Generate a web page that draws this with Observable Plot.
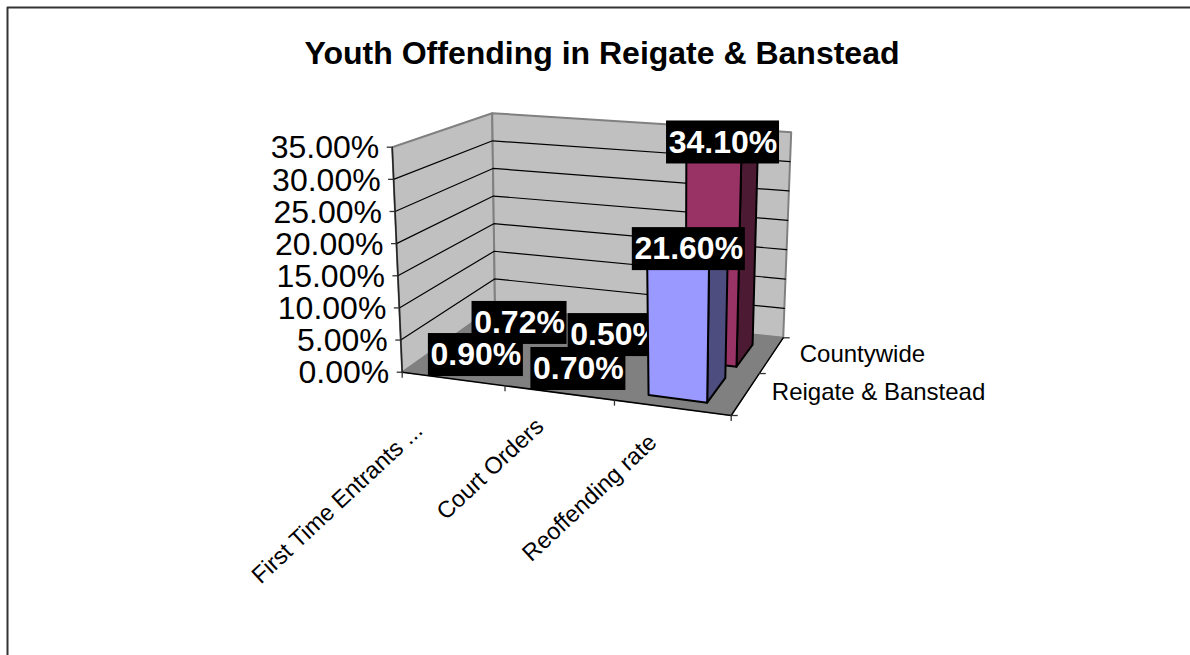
<!DOCTYPE html>
<html><head><meta charset="utf-8">
<script src="https://cdn.jsdelivr.net/npm/d3@7"></script>
<script src="https://cdn.jsdelivr.net/npm/@observablehq/plot@0.6"></script>
<style>html,body{margin:0;padding:0;background:#fff}svg{display:block}</style>
</head><body><div id="chart"></div>
<script>
const chartTitle = "Youth Offending in Reigate & Banstead";
const categories = ["First Time Entrants ...", "Court Orders", "Reoffending rate"];
const seriesNames = ["Reigate & Banstead", "Countywide"];
const reigateValues = [0.90, 0.70, 21.60];
const countywideValues = [0.72, 0.50, 34.10];
const valueTicks = [0, 5, 10, 15, 20, 25, 30, 35];
const valueMax = 35;

// layout of the 3D box
const floorQuad = [[401.7,371.7],[730.7,415],[782.7,337.3],[494.5,306]];
const topQuad = [[391.7,146.7],[737,176],[790.7,131.7],[491.7,112.7]];
function quadMap(q){
  const [[x0,y0],[x1,y1],[x2,y2],[x3,y3]] = q;
  const sx=x0-x1+x2-x3, sy=y0-y1+y2-y3, dx1=x1-x2, dx2=x3-x2, dy1=y1-y2, dy2=y3-y2;
  const det=dx1*dy2-dx2*dy1, g=(sx*dy2-dx2*sy)/det, h=(dx1*sy-sx*dy1)/det;
  const a=x1-x0+g*x1, b=x3-x0+h*x3, d=y1-y0+g*y1, e=y3-y0+h*y3;
  return (s,t)=>{const w=g*s+h*t+1; return [(a*s+b*t+x0)/w,(d*s+e*t+y0)/w];};
}
const floorMap = quadMap(floorQuad), topMap = quadMap(topQuad);
// c: category position (0..3), s: series position (0..2), v: value
function P(c,s,v){
  const f=floorMap(c/3,s/2), t=topMap(c/3,s/2), k=v/valueMax;
  return [f[0]+(t[0]-f[0])*k, f[1]+(t[1]-f[1])*k];
}
const poly = (pts,o)=>Plot.line(pts.concat([pts[0]]),{x:d=>d[0],y:d=>d[1],...o});
const seg = (a,b,o)=>Plot.line([a,b],{x:d=>d[0],y:d=>d[1],...o});

const FONT="Liberation Sans, Arial, sans-serif";
const wallFill="#c0c0c0", floorFill="#808080", edge="#808080";
const marks=[];
// frame
marks.push(Plot.line([[7,655],[7,7],[1190,7]],{x:d=>d[0],y:d=>d[1],stroke:"#333",strokeWidth:2}));
// walls and floor
marks.push(poly([P(0,0,0),P(0,2,0),P(0,2,valueMax),P(0,0,valueMax)],{fill:wallFill,stroke:edge,strokeWidth:2}));
marks.push(poly([P(0,2,0),P(3,2,0),P(3,2,valueMax),P(0,2,valueMax)],{fill:wallFill,stroke:edge,strokeWidth:2}));
marks.push(poly([P(0,0,0),P(3,0,0),P(3,2,0),P(0,2,0)],{fill:floorFill,stroke:floorFill,strokeWidth:1}));
// gridlines
for(const v of valueTicks.slice(1,-1)){
  marks.push(Plot.line([P(0,0,v),P(0,2,v),P(3,2,v)],{x:d=>d[0],y:d=>d[1],stroke:"#000",strokeWidth:1.2}));
}
// axis lines and ticks
marks.push(seg(P(0,0,0),P(0,0,valueMax),{stroke:"#222",strokeWidth:1.5}));
marks.push(seg(P(0,0,0),P(3,0,0),{stroke:"#000",strokeWidth:1.5}));
marks.push(seg(P(3,0,0),P(3,2,0),{stroke:"#000",strokeWidth:1.5}));
marks.push(Plot.ruleX([0,1,2,3].map(c=>P(c,0,0)),{x:d=>d[0],y1:d=>d[1],y2:d=>d[1]+6,stroke:"#333",strokeWidth:1.3}));
marks.push(Plot.ruleY(valueTicks.map(v=>P(0,0,v)),{y:d=>d[1],x1:d=>d[0]-5,x2:d=>d[0],stroke:"#333",strokeWidth:1.3}));
marks.push(Plot.ruleY([0,1,2].map(s=>P(3,s,0)),{y:d=>d[1],x1:d=>d[0],x2:d=>d[0]+7,stroke:"#333",strokeWidth:1.3}));
// axis labels
marks.push(Plot.text(valueTicks,{x:v=>P(0,0,v)[0]-13,y:v=>P(0,0,v)[1]+1,text:v=>v.toFixed(2)+"%",textAnchor:"end",fontSize:32,fontFamily:FONT,fill:"#000"}));
const catShift=[[-34,48],[-19,30],[-19,31]];
marks.push(Plot.text(categories,{x:(d,i)=>P(i+0.5,0,0)[0]+catShift[i][0],y:(d,i)=>P(i+0.5,0,0)[1]+catShift[i][1],text:d=>d,rotate:-43,textAnchor:"end",fontSize:23.5,fontFamily:FONT,fill:"#000"}));
marks.push(Plot.text(seriesNames,{x:(d,i)=>P(3,i+0.5,0)[0]+(i?28:26),y:(d,i)=>P(3,i+0.5,0)[1]-1,text:d=>d,textAnchor:"start",fontSize:24,fontFamily:FONT,fill:"#000"}));
// bars back to front with their labels
const barU=[[0.235,0.745],[0.30,0.77]], barV=[[0.2,0.8],[0.1,0.72]];
function bar(ci,si,v,cols){
  const u0=ci+barU[si][0],u1=ci+barU[si][1],v0=si+barV[si][0],v1=si+barV[si][1];
  marks.push(poly([P(u1,v0,0),P(u1,v1,0),P(u1,v1,v),P(u1,v0,v)],{fill:cols[1],stroke:"#000",strokeWidth:2}));
  marks.push(poly([P(u0,v0,v),P(u1,v0,v),P(u1,v1,v),P(u0,v1,v)],{fill:cols[1],stroke:"#000",strokeWidth:2}));
  marks.push(poly([P(u0,v0,0),P(u1,v0,0),P(u1,v0,v),P(u0,v0,v)],{fill:cols[0],stroke:"#000",strokeWidth:2}));
}
const labelDX=2, labelDY=1;
const labelNudge=[[[0,0],[0,0],[1,2.5]],[[0,0],[0,0],[3,-1.5]]];
function label(ci,si,v){
  const c=P(ci+0.47,si+0.5,v), t=v.toFixed(2)+"%";
  const w=(t.length===5?95:113);
  const cx=c[0]+labelDX+labelNudge[si][ci][0], cy=c[1]+labelDY+labelNudge[si][ci][1];
  marks.push(Plot.rect([0],{x1:()=>cx-w/2,x2:()=>cx+w/2,y1:()=>cy-21.5,y2:()=>cy+21.5,fill:"#000"}));
  marks.push(Plot.text([t],{x:()=>cx,y:()=>cy,text:d=>d,fontSize:32,fontWeight:"bold",fontFamily:FONT,fill:"#fff"}));
}
const seriesCols=[["#9999ff","#4d4d80"],["#993366","#4d1a33"]];
[countywideValues,reigateValues].forEach((vals,k)=>{
  const si=1-k;
  vals.forEach((v,ci)=>{bar(ci,si,v,seriesCols[si]);});
  vals.forEach((v,ci)=>{label(ci,si,v);});
});
marks.push(Plot.text([chartTitle],{x:()=>601.5,y:()=>53,text:d=>d,fontSize:32,fontWeight:"bold",fontFamily:FONT,fill:"#000"}));

const chart=Plot.plot({width:1190,height:655,margin:0,
  x:{domain:[0,1190],range:[0,1190],axis:null},
  y:{domain:[0,655],range:[0,655],axis:null},
  marks});
document.getElementById("chart").append(chart);
</script></body></html>
